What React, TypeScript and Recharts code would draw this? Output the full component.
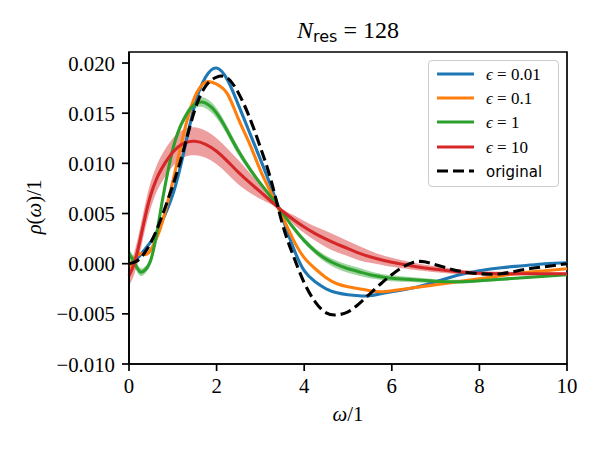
import React from "react";
import { ComposedChart, Line, Area, XAxis, YAxis, ReferenceArea, Legend } from "recharts";

// spectral values are in units of 1e-3
const omega = [0, 0.125, 0.25, 0.375, 0.5, 0.625, 0.75, 1, 1.25, 1.5, 1.75, 2, 2.25, 2.5, 2.75, 3, 3.25, 3.5, 3.75, 4, 4.25, 4.5, 4.75, 5, 5.25, 5.5, 5.75, 6, 6.5, 7, 7.5, 8, 8.5, 9, 9.5, 10];

const eps001 = [-0.1, 0.3, 0.8, 1.5, 2.2, 3.1, 4.2, 6.9, 11.1, 15.8, 18.6, 19.5, 18.3, 15.8, 13.1, 10.4, 7.6, 4.6, 1.6, -0.7, -1.8, -2.5, -2.9, -3.1, -3.2, -3.2, -3.0, -2.8, -2.4, -1.8, -1.15, -0.7, -0.4, -0.2, 0.0, 0.1];
const eps01 = [-0.4, 0.5, 1.0, 0.9, 1.4, 2.5, 4.0, 8.2, 13.0, 16.6, 18.1, 17.9, 16.9, 14.4, 12.0, 9.3, 7.0, 4.7, 2.4, 0.6, -0.5, -1.4, -2.0, -2.3, -2.5, -2.7, -2.8, -2.7, -2.4, -2.1, -1.8, -1.5, -1.2, -0.9, -0.7, -0.5];
const eps1 = [1.0, 0.1, -0.8, -0.6, 0.4, 2.8, 6.0, 11.4, 14.4, 15.9, 16.0, 15.0, 13.2, 11.2, 9.5, 8.0, 6.6, 5.1, 3.6, 2.3, 1.25, 0.45, -0.1, -0.5, -0.8, -1.1, -1.3, -1.45, -1.6, -1.75, -1.8, -1.7, -1.55, -1.4, -1.25, -1.1];
const eps1Spread = [0.5, 0.45, 0.4, 0.35, 0.3, 0.3, 0.3, 0.3, 0.35, 0.45, 0.5, 0.5, 0.45, 0.4, 0.3, 0.2, 0.1, 0.1, 0.2, 0.25, 0.3, 0.35, 0.4, 0.4, 0.4, 0.35, 0.3, 0.3, 0.25, 0.2, 0.2, 0.15, 0.15, 0.1, 0.1, 0.1];
const eps10 = [-1.2, 0.1, 2.3, 4.8, 6.9, 8.4, 9.5, 11.1, 12.0, 12.2, 11.9, 11.2, 10.2, 9.1, 8.1, 7.15, 6.2, 5.25, 4.4, 3.65, 3.0, 2.45, 1.95, 1.5, 1.05, 0.7, 0.4, 0.15, -0.25, -0.55, -0.8, -0.95, -1.0, -1.0, -1.0, -1.0];
const eps10Spread = [1.0, 1.1, 1.2, 1.25, 1.3, 1.3, 1.35, 1.4, 1.4, 1.4, 1.35, 1.3, 1.25, 1.2, 1.0, 0.7, 0.3, 0.2, 0.45, 0.6, 0.7, 0.8, 0.8, 0.75, 0.7, 0.6, 0.5, 0.45, 0.35, 0.3, 0.25, 0.2, 0.2, 0.15, 0.15, 0.1];
const original = [0.0, 0.15, 0.5, 1.2, 2.1, 3.3, 4.7, 7.8, 11.4, 15.3, 17.7, 18.6, 18.5, 17.0, 14.6, 11.6, 8.2, 4.0, 0.8, -1.9, -3.8, -4.9, -5.1, -4.8, -4.0, -3.0, -2.0, -1.1, 0.15, -0.1, -0.7, -1.0, -1.0, -0.6, -0.3, 0.0];

const xTicks = [0, 2, 4, 6, 8, 10];
const yTicks = [-10, -5, 0, 5, 10, 15, 20];

const series = [
  { key: "blue", label: "0.01", color: "#1f77b4" },
  { key: "orange", label: "0.1", color: "#ff7f0e" },
  { key: "green", label: "1", color: "#2ca02c" },
  { key: "red", label: "10", color: "#d62728" },
];

const rows = omega.map((w, i) => ({
  w,
  blue: eps001[i],
  orange: eps01[i],
  green: eps1[i],
  red: eps10[i],
  orig: original[i],
  greenBand: [eps1[i] - eps1Spread[i], eps1[i] + eps1Spread[i]],
  redBand: [eps10[i] - eps10Spread[i], eps10[i] + eps10Spread[i]],
}));

const serif = "Liberation Serif, DejaVu Serif, serif";
const sans = "DejaVu Sans, sans-serif";

const fmtY = (v: number) => (v < 0 ? "\u2212" : "") + Math.abs(v / 1000).toFixed(3);

function XTick(props: any) {
  const { x, y, payload } = props;
  return (
    <text x={x} y={y + 15} textAnchor="middle" style={{ fontFamily: serif, fontSize: 20.8 }} fill="#000">
      {payload.value}
    </text>
  );
}

function YTick(props: any) {
  const { x, y, payload } = props;
  return (
    <text x={x} y={y + 7.5} textAnchor="end" style={{ fontFamily: serif, fontSize: 20.8 }} fill="#000">
      {fmtY(payload.value)}
    </text>
  );
}

function LegendBox() {
  const rowY = [14, 38, 62, 87, 111];
  return (
    <div
      style={{
        position: "relative",
        width: 131,
        height: 127,
        boxSizing: "border-box",
        border: "1px solid #cccccc",
        borderRadius: 4,
        background: "rgba(255,255,255,0.8)",
      }}
    >
      <svg width={131} height={127} style={{ position: "absolute", left: -1, top: -1 }}>
        {series.map((s, i) => (
          <g key={s.key}>
            <line x1={9} x2={46} y1={rowY[i]} y2={rowY[i]} stroke={s.color} strokeWidth={3.1} />
            <text x={58} y={rowY[i] + 5.5} style={{ fontFamily: serif, fontSize: 17 }} fill="#000">
              <tspan style={{ fontStyle: "italic" }}>{"\u03f5"}</tspan>
              {" = " + s.label}
            </text>
          </g>
        ))}
        <line x1={9} x2={46} y1={rowY[4]} y2={rowY[4]} stroke="#000" strokeWidth={3.1} strokeDasharray="11 5" />
        <text x={58} y={rowY[4] + 5.5} style={{ fontFamily: sans, fontSize: 15 }} fill="#000">
          original
        </text>
      </svg>
    </div>
  );
}

export default function App() {
  return (
    <div style={{ position: "fixed", left: 0, top: 0, width: 600, height: 450, background: "#fff" }}>
      <ComposedChart width={600} height={450} data={rows} margin={{ top: 52, right: 33, bottom: 56, left: 59 }}>
        <XAxis
          dataKey="w"
          type="number"
          domain={[0, 10]}
          ticks={xTicks}
          height={30}
          tickSize={7}
          tickMargin={7}
          axisLine={{ stroke: "#000", strokeWidth: 1.7 }}
          tickLine={{ stroke: "#000", strokeWidth: 1.7 }}
          tick={<XTick />}
        />
        <YAxis
          type="number"
          domain={[-10, 21.1]}
          ticks={yTicks}
          width={70}
          tickSize={7}
          tickMargin={7}
          axisLine={{ stroke: "#000", strokeWidth: 1.7 }}
          tickLine={{ stroke: "#000", strokeWidth: 1.7 }}
          tick={<YTick />}
        />
        <Line type="natural" dataKey="blue" stroke="#1f77b4" strokeWidth={3.1} dot={false} isAnimationActive={false} />
        <Line type="natural" dataKey="orange" stroke="#ff7f0e" strokeWidth={3.1} dot={false} isAnimationActive={false} />
        <Area type="natural" dataKey="greenBand" stroke="none" fill="#2ca02c" fillOpacity={0.45} isAnimationActive={false} />
        <Line type="natural" dataKey="green" stroke="#2ca02c" strokeWidth={3.1} dot={false} isAnimationActive={false} />
        <Area type="natural" dataKey="redBand" stroke="none" fill="#d62728" fillOpacity={0.45} isAnimationActive={false} />
        <Line type="natural" dataKey="red" stroke="#d62728" strokeWidth={3.1} dot={false} isAnimationActive={false} />
        <Line
          type="natural"
          dataKey="orig"
          stroke="#000"
          strokeWidth={3.1}
          strokeDasharray="11 5"
          dot={false}
          isAnimationActive={false}
        />
        <ReferenceArea x1={0} x2={10} y1={-10} y2={21.1} fill="none" stroke="#000" strokeWidth={1.7} ifOverflow="visible" />
        <Legend
          layout="vertical"
          align="center"
          verticalAlign="middle"
          content={() => <LegendBox />}
          wrapperStyle={{ position: "absolute", left: 428, top: 60, width: 131, height: 127 }}
        />
        <text x={348} y={38} textAnchor="middle" style={{ fontFamily: serif, fontSize: 24 }} fill="#000">
          <tspan style={{ fontStyle: "italic" }}>N</tspan>
          <tspan style={{ fontFamily: sans, fontSize: 16 }} dy={4}>res</tspan>
          <tspan dy={-4}>{" = 128"}</tspan>
        </text>
        <text x={348} y={421} textAnchor="middle" style={{ fontFamily: serif, fontSize: 20.8 }} fill="#000">
          <tspan style={{ fontStyle: "italic" }}>{"\u03c9"}</tspan>/1
        </text>
        <text transform="translate(41,207) rotate(-90)" textAnchor="middle" style={{ fontFamily: serif, fontSize: 20.8 }} fill="#000">
          <tspan style={{ fontStyle: "italic" }}>{"\u03c1"}</tspan>(<tspan style={{ fontStyle: "italic" }}>{"\u03c9"}</tspan>)/1
        </text>
      </ComposedChart>
    </div>
  );
}
